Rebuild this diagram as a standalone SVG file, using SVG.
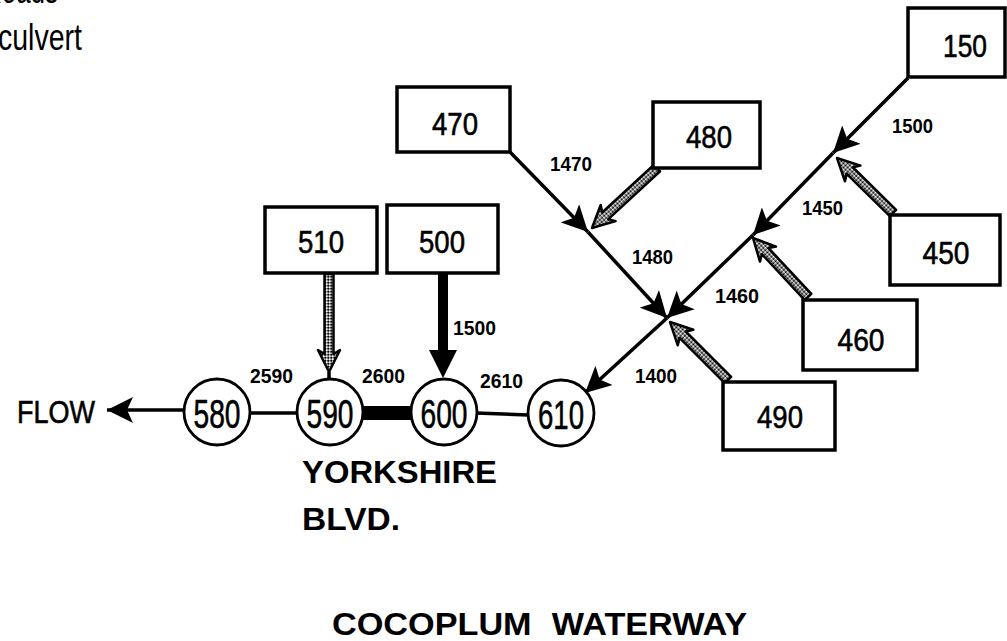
<svg xmlns="http://www.w3.org/2000/svg" width="1007" height="641" viewBox="0 0 1007 641">
<style>
  text { font-family: "Liberation Sans", Arial, sans-serif; fill: #000; }
  .box { fill: #fff; stroke: #000; stroke-width: 3.5; }
  .circ { fill: #fff; stroke: #000; stroke-width: 2.8; }
  .bl { font-size: 32px; text-anchor: middle; stroke: #000; stroke-width: 0.6; }
  .cl { font-size: 40px; text-anchor: middle; stroke: #000; stroke-width: 0.6; }
  .sm { font-size: 20px; font-weight: bold; }
  .big { font-size: 31px; font-weight: bold; }
  .ln { stroke: #000; stroke-width: 3.5; fill: none; }
  .ar { marker-end: url(#ah); }
  .hatch { fill: url(#stip); stroke: #000; stroke-width: 2.5; stroke-linejoin: round; }
</style>
<defs>
  <marker id="ah" markerUnits="userSpaceOnUse" viewBox="0 0 28 26" markerWidth="28" markerHeight="26" refX="26" refY="13" orient="auto">
    <path d="M0,0 L26,13 L0,26 L6,13 z" fill="#000"/>
  </marker>
  <pattern id="stip" patternUnits="userSpaceOnUse" width="3" height="3">
    <rect width="3" height="3" fill="#888"/>
    <rect width="1.5" height="1.5" fill="#000"/>
    <rect x="1.5" y="1.5" width="1.5" height="1.5" fill="#fff"/>
  </pattern>
</defs>
<rect width="1007" height="641" fill="#fff"/>

<!-- legend fragment -->
<text x="-17" y="3" font-size="36" textLength="75" lengthAdjust="spacingAndGlyphs">Roads</text>
<text x="-2" y="50" font-size="36" textLength="84" lengthAdjust="spacingAndGlyphs">culvert</text>

<!-- connectors -->
<g id="connectors">
  <line class="ln ar" x1="510" y1="152" x2="588" y2="232"/>
  <line class="ln ar" x1="588" y1="232" x2="667" y2="318"/>
  <line class="ln ar" x1="908" y1="78" x2="833" y2="153"/>
  <line class="ln ar" x1="833" y1="153" x2="753" y2="235"/>
  <line class="ln ar" x1="753" y1="235" x2="667" y2="318"/>
  <line class="ln ar" x1="667" y1="318" x2="585" y2="393"/>
  <line class="ln ar" x1="184" y1="410" x2="107" y2="410"/>
  <line class="ln" x1="250" y1="413" x2="298" y2="413" stroke-width="2.5"/>
  <line class="ln" x1="476" y1="413" x2="528" y2="415" stroke-width="2.5"/>
  <rect x="362" y="406" width="51" height="14" fill="#000"/>
  <path d="M438,273 L448,273 L448,350 L457,350 L443,378 L429,350 L438,350 Z" fill="#000"/>
  <g transform="translate(592,228) rotate(137.3)"><path class="hatch" d="M0,0 L-22,-11 L-18,-4.5 L-88.5,-4.5 L-88.5,4.5 L-18,4.5 L-22,11 Z"/></g>
  <g transform="translate(837,158) rotate(-135.5)"><path class="hatch" d="M0,0 L-22,-11 L-18,-4.5 L-78.5,-4.5 L-78.5,4.5 L-18,4.5 L-22,11 Z"/></g>
  <g transform="translate(753,238) rotate(-133)"><path class="hatch" d="M0,0 L-22,-11 L-18,-4.5 L-80.7,-4.5 L-80.7,4.5 L-18,4.5 L-22,11 Z"/></g>
  <g transform="translate(670,322) rotate(-135)"><path class="hatch" d="M0,0 L-22,-11 L-18,-4.5 L-82,-4.5 L-82,4.5 L-18,4.5 L-22,11 Z"/></g>
  <g transform="translate(329,372) rotate(90)"><path class="hatch" d="M0,0 L-22,-11 L-18,-4.5 L-98,-4.5 L-98,4.5 L-18,4.5 L-22,11 Z"/></g>
  <line class="ln" x1="329" y1="372" x2="329" y2="380" stroke-width="2"/>
</g>

<!-- edge labels -->
<g id="labels">
  <text class="sm" x="550" y="171" textLength="42" lengthAdjust="spacingAndGlyphs">1470</text>
  <text class="sm" x="632" y="264" textLength="41" lengthAdjust="spacingAndGlyphs">1480</text>
  <text class="sm" x="892" y="133" textLength="41" lengthAdjust="spacingAndGlyphs">1500</text>
  <text class="sm" x="802" y="215" textLength="41" lengthAdjust="spacingAndGlyphs">1450</text>
  <text class="sm" x="715" y="303" textLength="44" lengthAdjust="spacingAndGlyphs">1460</text>
  <text class="sm" x="635" y="383" textLength="42" lengthAdjust="spacingAndGlyphs">1400</text>
  <text class="sm" x="453" y="335" textLength="43" lengthAdjust="spacingAndGlyphs">1500</text>
  <text class="sm" x="250" y="383" textLength="43" lengthAdjust="spacingAndGlyphs">2590</text>
  <text class="sm" x="362" y="383" textLength="43" lengthAdjust="spacingAndGlyphs">2600</text>
  <text class="sm" x="480" y="388" textLength="43" lengthAdjust="spacingAndGlyphs">2610</text>
</g>

<!-- boxes -->
<g id="n470"><rect class="box" x="397" y="87" width="113" height="65"/><text class="bl" x="455" y="135" textLength="46" lengthAdjust="spacingAndGlyphs">470</text></g>
<g id="n480"><rect class="box" x="653" y="102" width="107" height="66"/><text class="bl" x="709" y="148" textLength="46" lengthAdjust="spacingAndGlyphs">480</text></g>
<g id="n500"><rect class="box" x="387" y="205" width="111" height="68"/><text class="bl" x="442" y="253" textLength="46" lengthAdjust="spacingAndGlyphs">500</text></g>
<g id="n510"><rect class="box" x="265" y="207" width="112" height="66"/><text class="bl" x="321" y="253" textLength="46" lengthAdjust="spacingAndGlyphs">510</text></g>
<g id="n150"><rect class="box" x="908" y="8" width="97" height="69"/><text class="bl" x="965" y="57" textLength="44" lengthAdjust="spacingAndGlyphs">150</text></g>
<g id="n450"><rect class="box" x="890" y="215" width="110" height="70"/><text class="bl" x="946" y="264" textLength="47" lengthAdjust="spacingAndGlyphs">450</text></g>
<g id="n460"><rect class="box" x="803" y="300" width="114" height="70"/><text class="bl" x="861" y="351" textLength="47" lengthAdjust="spacingAndGlyphs">460</text></g>
<g id="n490"><rect class="box" x="723" y="382" width="112" height="68"/><text class="bl" x="780" y="428" textLength="46" lengthAdjust="spacingAndGlyphs">490</text></g>

<!-- circles -->
<g id="n580"><circle class="circ" cx="217" cy="412" r="33"/><text class="cl" x="217" y="428" textLength="47" lengthAdjust="spacingAndGlyphs">580</text></g>
<g id="n590"><circle class="circ" cx="330" cy="412" r="33"/><text class="cl" x="330" y="428" textLength="47" lengthAdjust="spacingAndGlyphs">590</text></g>
<g id="n600"><circle class="circ" cx="444" cy="412" r="33"/><text class="cl" x="444" y="428" textLength="47" lengthAdjust="spacingAndGlyphs">600</text></g>
<g id="n610"><circle class="circ" cx="561" cy="413" r="33"/><text class="cl" x="561" y="429" textLength="46" lengthAdjust="spacingAndGlyphs">610</text></g>

<!-- titles -->
<text x="17" y="423" font-size="32" stroke="#000" stroke-width="0.6" textLength="78" lengthAdjust="spacingAndGlyphs">FLOW</text>
<text class="big" x="302" y="483" textLength="195" lengthAdjust="spacingAndGlyphs">YORKSHIRE</text>
<text class="big" x="302" y="530" textLength="98" lengthAdjust="spacingAndGlyphs">BLVD.</text>
<text x="332" y="635" font-size="32" font-weight="bold" word-spacing="10" textLength="415" lengthAdjust="spacingAndGlyphs">COCOPLUM WATERWAY</text>
</svg>
